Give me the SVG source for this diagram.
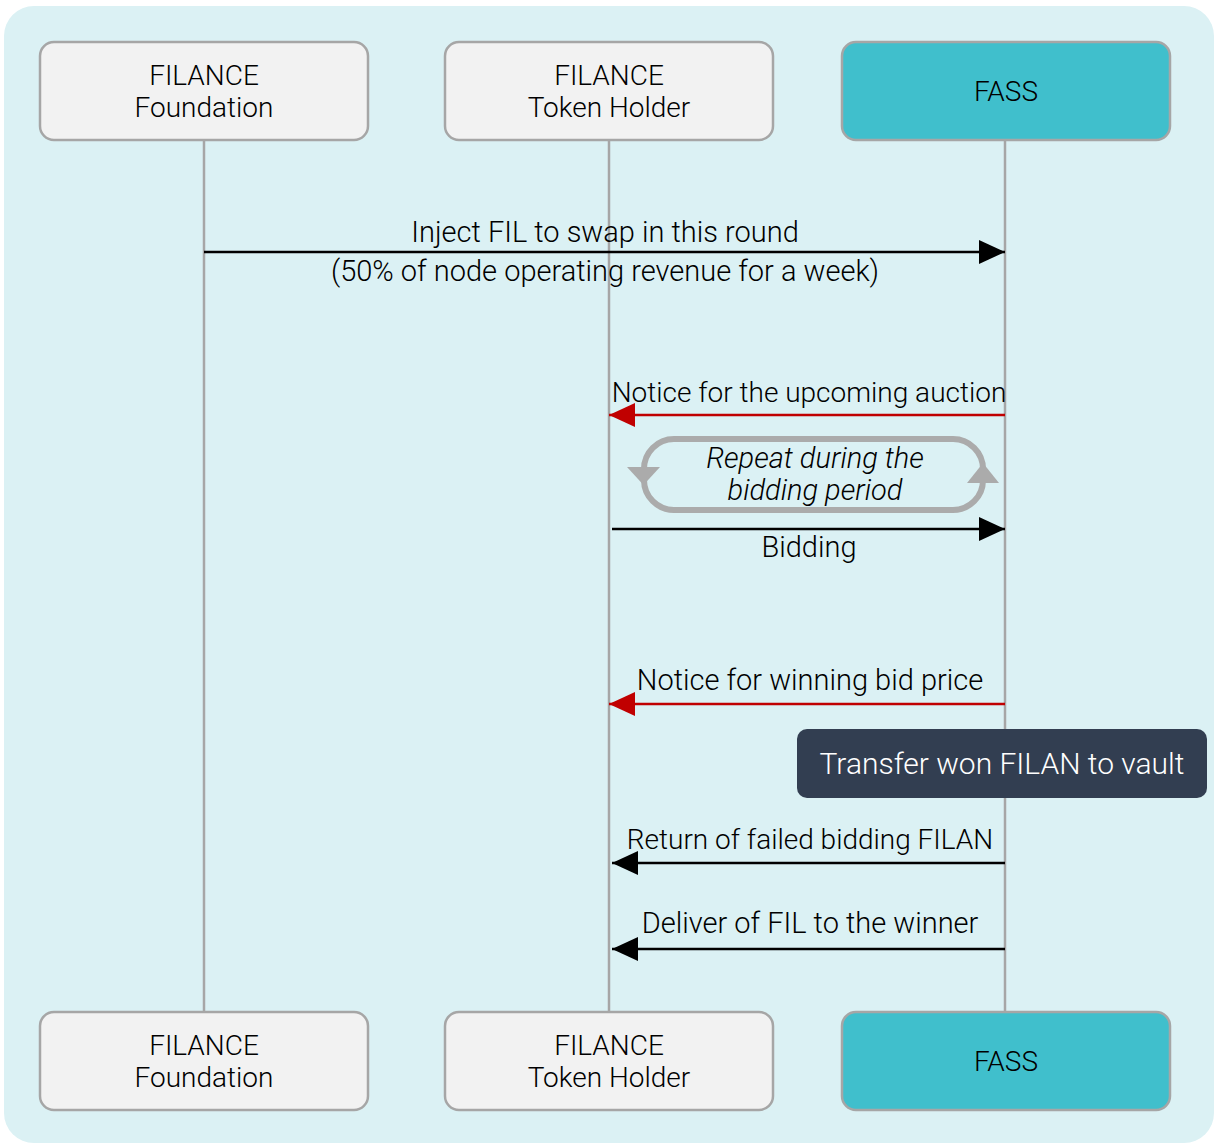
<svg xmlns="http://www.w3.org/2000/svg" width="1219" height="1145" viewBox="0 0 1219 1145">
<style>
text{font-family:Roboto,"Liberation Sans",Arial,sans-serif;font-weight:300;font-size:28px;fill:#000;text-anchor:middle}
.lbl{font-size:29px}
.sm{font-size:28px}
.box{fill:#F2F2F2;stroke:#A6A6A6;stroke-width:2.5}
.fass{fill:#40BFCC;stroke:#A6A6A6;stroke-width:2.5}
.life{stroke:#A6A6A6;stroke-width:2.5;fill:none}
.msg{stroke:#000;stroke-width:2.5;fill:none}
.red{stroke:#C00000;stroke-width:2.5;fill:none}
.loop{stroke:#ABABAB;stroke-width:6;fill:none}
</style>
<defs>
<marker id="ab" viewBox="0 0 26 24" refX="26" refY="12" markerWidth="26" markerHeight="24" markerUnits="userSpaceOnUse" orient="auto"><path d="M0,0L26,12L0,24Z" fill="#000"/></marker>
<marker id="ar" viewBox="0 0 26 24" refX="26" refY="12" markerWidth="26" markerHeight="24" markerUnits="userSpaceOnUse" orient="auto"><path d="M0,0L26,12L0,24Z" fill="#C00000"/></marker>
</defs>
<rect x="4" y="6" width="1210" height="1137" rx="30" fill="#DBF1F4"/>
<g id="lifelines">
<line class="life" x1="204" y1="140" x2="204" y2="1012"/>
<line class="life" x1="609" y1="140" x2="609" y2="1012"/>
<line class="life" x1="1005" y1="140" x2="1005" y2="1012"/>
</g>
<g id="foundation-top"><rect class="box" x="40" y="42" width="328" height="98" rx="14"/><text x="204" y="85">FILANCE</text><text x="204" y="117">Foundation</text></g>
<g id="holder-top"><rect class="box" x="445" y="42" width="328" height="98" rx="14"/><text x="609" y="85">FILANCE</text><text x="609" y="117">Token Holder</text></g>
<g id="fass-top"><rect class="fass" x="842" y="42" width="328" height="98" rx="14"/><text x="1006" y="101">FASS</text></g>
<g id="foundation-bottom"><rect class="box" x="40" y="1012" width="328" height="98" rx="14"/><text x="204" y="1055">FILANCE</text><text x="204" y="1087">Foundation</text></g>
<g id="holder-bottom"><rect class="box" x="445" y="1012" width="328" height="98" rx="14"/><text x="609" y="1055">FILANCE</text><text x="609" y="1087">Token Holder</text></g>
<g id="fass-bottom"><rect class="fass" x="842" y="1012" width="328" height="98" rx="14"/><text x="1006" y="1071">FASS</text></g>
<g id="connectors">
<line class="msg" x1="204" y1="252" x2="1005" y2="252" marker-end="url(#ab)"/>
<line class="red" x1="1005" y1="415" x2="609" y2="415" marker-end="url(#ar)"/>
<line class="msg" x1="612" y1="529" x2="1005" y2="529" marker-end="url(#ab)"/>
<line class="red" x1="1005" y1="704" x2="609" y2="704" marker-end="url(#ar)"/>
<line class="msg" x1="1005" y1="863" x2="612" y2="863" marker-end="url(#ab)"/>
<line class="msg" x1="1005" y1="949" x2="612" y2="949" marker-end="url(#ab)"/>
</g>
<g id="labels">
<text class="lbl" x="605" y="242">Inject FIL to swap in this round</text>
<text class="lbl" x="605" y="281">(50% of node operating revenue for a week)</text>
<text class="sm" x="809" y="402">Notice for the upcoming auction</text>
<text class="lbl" x="809" y="557">Bidding</text>
<text class="lbl" x="810" y="690">Notice for winning bid price</text>
<text class="sm" x="810" y="849">Return of failed bidding FILAN</text>
<text class="lbl" x="810" y="933">Deliver of FIL to the winner</text>
</g>
<g id="loop">
<rect class="loop" x="644" y="439" width="339" height="71" rx="30"/>
<path d="M627,467L660,467L643.5,485Z" fill="#ABABAB"/>
<path d="M967,483L999,483L983,463Z" fill="#ABABAB"/>
<text class="lbl" x="815" y="468" font-style="italic">Repeat during the</text>
<text class="lbl" x="815" y="500" font-style="italic">bidding period</text>
</g>
<g id="vault">
<rect x="797" y="729" width="410" height="69" rx="10" fill="#323E51"/>
<text x="1002" y="774" style="fill:#fff;font-size:30px">Transfer won FILAN to vault</text>
</g>
</svg>
